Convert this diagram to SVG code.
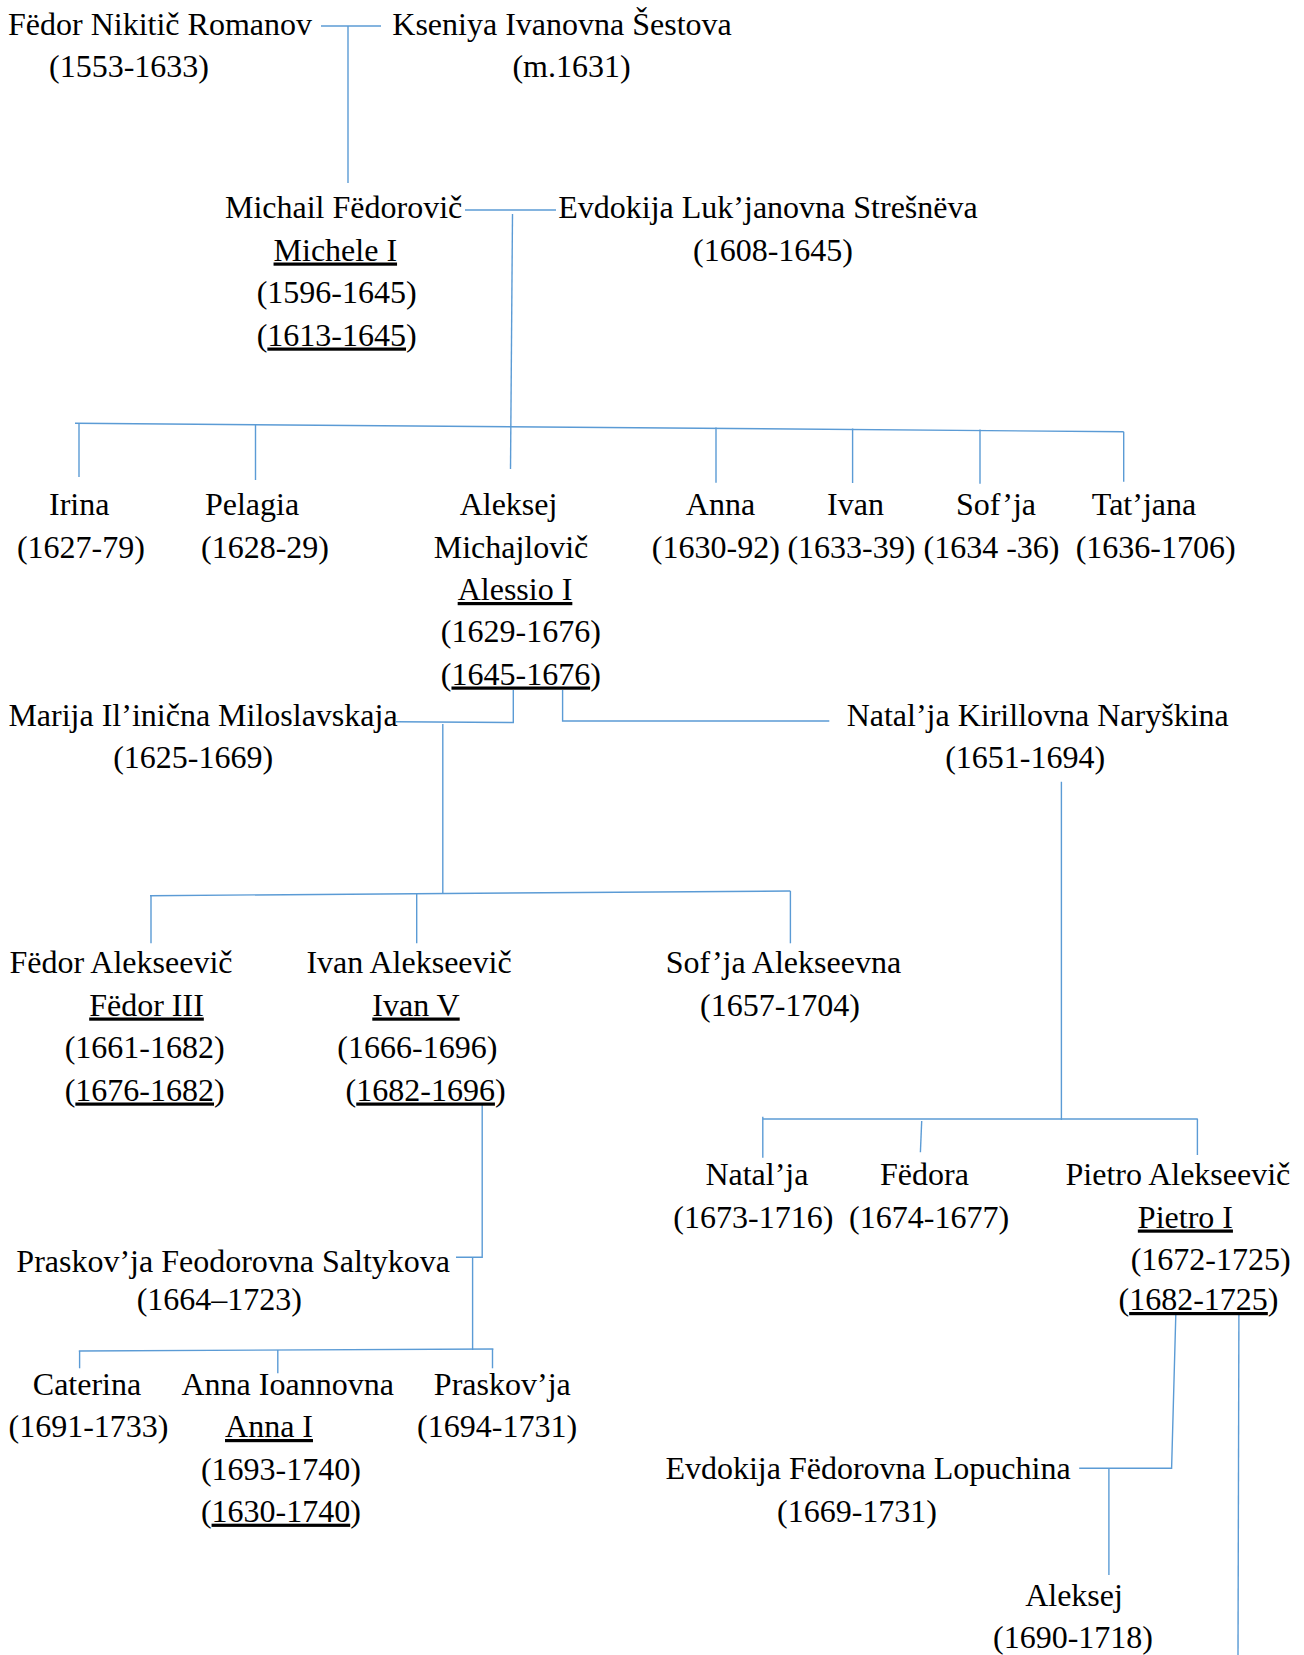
<svg xmlns="http://www.w3.org/2000/svg" width="1304" height="1655" viewBox="0 0 1304 1655">
<style>
.t{font-family:"Liberation Serif","Times New Roman",serif;font-size:32px;fill:#000;text-anchor:middle}
.u{text-decoration:underline}
.c line,.c polyline{stroke:#5B9BD5;stroke-width:1.4;fill:none}
</style>
<rect width="1304" height="1655" fill="#fff"/>
<g class="c" id="connectors">
<line x1="321" y1="26" x2="381" y2="26"/>
<line x1="348" y1="26" x2="348" y2="183"/>
<line x1="465" y1="210" x2="556" y2="210"/>
<line x1="512.5" y1="214" x2="510.5" y2="469"/>
<line x1="75" y1="423.3" x2="1123.7" y2="431.7"/>
<line x1="79" y1="423.5" x2="79" y2="477"/>
<line x1="255.5" y1="424" x2="255.5" y2="480"/>
<line x1="716" y1="427.5" x2="716" y2="482.7"/>
<line x1="852.6" y1="428.5" x2="852.6" y2="483"/>
<line x1="980" y1="429.5" x2="980" y2="483.7"/>
<line x1="1123.7" y1="431.7" x2="1123.7" y2="481.7"/>
<polyline points="513.3,690 513.3,722.5 396,721.7"/>
<line x1="442.8" y1="724" x2="442.8" y2="893.3"/>
<line x1="150" y1="895.7" x2="790.4" y2="891"/>
<line x1="151" y1="895.7" x2="151" y2="943.3"/>
<line x1="416.7" y1="893.8" x2="416.7" y2="943.3"/>
<line x1="790.4" y1="891" x2="790.4" y2="943.3"/>
<polyline points="562.6,690 562.6,721 829.3,721"/>
<line x1="1061.4" y1="781.7" x2="1061.4" y2="1120"/>
<line x1="762.8" y1="1119" x2="1197.8" y2="1119"/>
<line x1="762.8" y1="1116.7" x2="762.8" y2="1157.7"/>
<line x1="921.7" y1="1121" x2="920.4" y2="1152.3"/>
<line x1="1197.4" y1="1119" x2="1197.4" y2="1155"/>
<polyline points="482.2,1105 482.2,1257.3 456,1257.3"/>
<line x1="472.6" y1="1257.3" x2="472.6" y2="1350"/>
<line x1="78.8" y1="1351" x2="493.4" y2="1349"/>
<line x1="79.6" y1="1351" x2="79.6" y2="1368.3"/>
<line x1="277.8" y1="1350" x2="277.8" y2="1373.3"/>
<line x1="492.5" y1="1349" x2="492.5" y2="1368.3"/>
<polyline points="1175.8,1315 1171.6,1468.3 1079.2,1468.3"/>
<line x1="1108.9" y1="1468.3" x2="1108.9" y2="1575"/>
<line x1="1238.9" y1="1315" x2="1238" y2="1655"/>
</g>
<g id="fedor-nikitic"><text class="t" x="160" y="35">Fëdor Nikitič Romanov</text><text class="t" x="129" y="77">(1553-1633)</text></g>
<g id="kseniya"><text class="t" x="562" y="35">Kseniya Ivanovna Šestova</text><text class="t" x="571.5" y="77">(m.1631)</text></g>
<g id="michail"><text class="t" x="343.6" y="218">Michail Fëdorovič</text><text class="t" x="335.3" y="260.5"><tspan class="u">Michele I</tspan></text><text class="t" x="336.7" y="303">(1596-1645)</text><text class="t" x="336.7" y="345.5">(<tspan class="u">1613-1645</tspan>)</text></g>
<g id="evdokija-s"><text class="t" x="768" y="218">Evdokija Luk’janovna Strešnëva</text><text class="t" x="773" y="260.5">(1608-1645)</text></g>
<g id="irina"><text class="t" x="79.2" y="515">Irina</text><text class="t" x="80.9" y="557.5">(1627-79)</text></g>
<g id="pelagia"><text class="t" x="252" y="515">Pelagia</text><text class="t" x="265" y="557.5">(1628-29)</text></g>
<g id="aleksej-m"><text class="t" x="508.5" y="515">Aleksej</text><text class="t" x="511" y="557.5">Michajlovič</text><text class="t" x="515" y="600"><tspan class="u">Alessio I</tspan></text><text class="t" x="520.8" y="642">(1629-1676)</text><text class="t" x="520.8" y="684.5">(<tspan class="u">1645-1676</tspan>)</text></g>
<g id="anna-1630"><text class="t" x="720.5" y="515">Anna</text><text class="t" x="715.8" y="557.5">(1630-92)</text></g>
<g id="ivan-1633"><text class="t" x="855.5" y="515">Ivan</text><text class="t" x="851.4" y="557.5">(1633-39)</text></g>
<g id="sofja-1634"><text class="t" x="996" y="515">Sof’ja</text><text class="t" x="991.5" y="557.5">(1634 -36)</text></g>
<g id="tatjana"><text class="t" x="1144" y="515">Tat’jana</text><text class="t" x="1155.7" y="557.5">(1636-1706)</text></g>
<g id="marija"><text class="t" x="203" y="726">Marija Il’inična Miloslavskaja</text><text class="t" x="193.2" y="768.3">(1625-1669)</text></g>
<g id="natalja-n"><text class="t" x="1037.7" y="726">Natal’ja Kirillovna Naryškina</text><text class="t" x="1025.2" y="768.3">(1651-1694)</text></g>
<g id="fedor-a"><text class="t" x="121" y="973">Fëdor Alekseevič</text><text class="t" x="146.5" y="1015.5"><tspan class="u">Fëdor III</tspan></text><text class="t" x="144.7" y="1058">(1661-1682)</text><text class="t" x="144.7" y="1100.5">(<tspan class="u">1676-1682</tspan>)</text></g>
<g id="ivan-a"><text class="t" x="409" y="973">Ivan Alekseevič</text><text class="t" x="416" y="1015.5"><tspan class="u">Ivan V</tspan></text><text class="t" x="417.3" y="1058">(1666-1696)</text><text class="t" x="425.6" y="1100.5">(<tspan class="u">1682-1696</tspan>)</text></g>
<g id="sofja-a"><text class="t" x="783.4" y="973">Sof’ja Alekseevna</text><text class="t" x="780" y="1015.5">(1657-1704)</text></g>
<g id="natalja-1673"><text class="t" x="756.9" y="1185">Natal’ja</text><text class="t" x="753.3" y="1227.5">(1673-1716)</text></g>
<g id="fedora"><text class="t" x="924.4" y="1185">Fëdora</text><text class="t" x="929.1" y="1227.5">(1674-1677)</text></g>
<g id="pietro"><text class="t" x="1177.9" y="1185">Pietro Alekseevič</text><text class="t" x="1185.4" y="1227.5"><tspan class="u">Pietro I</tspan></text><text class="t" x="1210.7" y="1270">(1672-1725)</text><text class="t" x="1198.5" y="1310">(<tspan class="u">1682-1725</tspan>)</text></g>
<g id="praskovja-s"><text class="t" x="233.2" y="1271.7">Praskov’ja Feodorovna Saltykova</text><text class="t" x="219.3" y="1310">(1664–1723)</text></g>
<g id="caterina"><text class="t" x="87" y="1395">Caterina</text><text class="t" x="88.5" y="1437">(1691-1733)</text></g>
<g id="anna-i"><text class="t" x="287.7" y="1395">Anna Ioannovna</text><text class="t" x="269" y="1437"><tspan class="u">Anna I</tspan></text><text class="t" x="280.9" y="1479.5">(1693-1740)</text><text class="t" x="280.9" y="1521.7">(<tspan class="u">1630-1740</tspan>)</text></g>
<g id="praskovja"><text class="t" x="502.3" y="1395">Praskov’ja</text><text class="t" x="497.1" y="1437">(1694-1731)</text></g>
<g id="evdokija-l"><text class="t" x="868" y="1479.3">Evdokija Fëdorovna Lopuchina</text><text class="t" x="857" y="1521.7">(1669-1731)</text></g>
<g id="aleksej-p"><text class="t" x="1074" y="1606">Aleksej</text><text class="t" x="1073" y="1648.3">(1690-1718)</text></g>
</svg>
